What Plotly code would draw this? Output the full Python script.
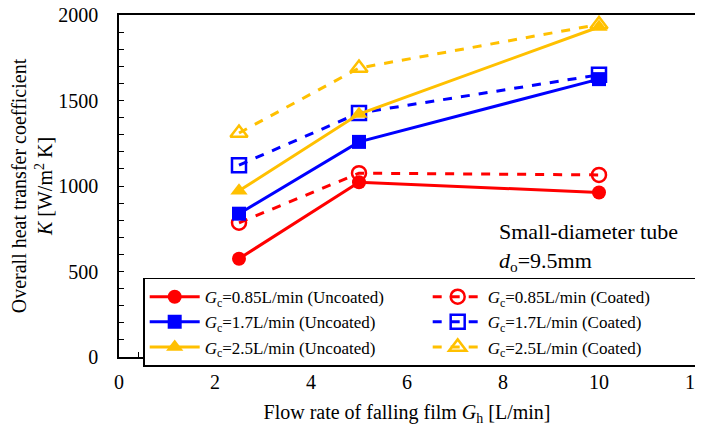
import plotly.graph_objects as go

x_flow = [2.5, 5.0, 10.0]
k_085_uncoated = [575, 1022, 962]
k_085_coated = [785, 1075, 1065]
k_17_uncoated = [838, 1258, 1625]
k_17_coated = [1122, 1427, 1650]
k_25_uncoated = [972, 1421, 1930]
k_25_coated = [1310, 1690, 1945]

RED = "#FF0000"
BLUE = "#0000FF"
YEL = "#FFC000"
FONT = "Liberation Serif"

series = [
    ("<i>G</i><sub>c</sub>=0.85L/min (Uncoated)", k_085_uncoated, RED, "solid", "circle"),
    ("<i>G</i><sub>c</sub>=0.85L/min (Coated)", k_085_coated, RED, "dash", "circle-open"),
    ("<i>G</i><sub>c</sub>=1.7L/min (Uncoated)", k_17_uncoated, BLUE, "solid", "square"),
    ("<i>G</i><sub>c</sub>=1.7L/min (Coated)", k_17_coated, BLUE, "dash", "square-open"),
    ("<i>G</i><sub>c</sub>=2.5L/min (Uncoated)", k_25_uncoated, YEL, "solid", "triangle-up"),
    ("<i>G</i><sub>c</sub>=2.5L/min (Coated)", k_25_coated, YEL, "dash", "triangle-up-open"),
]

fig = go.Figure()
for name, ys, col, dash, sym in series:
    fig.add_trace(go.Scatter(
        x=x_flow, y=ys, name=name, mode="lines+markers",
        line=dict(color=col, width=3, dash=dash),
        marker=dict(symbol=sym, size=15 if "triangle" in sym else 14, color=col,
                    line=dict(color=col, width=2.5 if "open" in sym else 0)),
    ))

# page body has an 8px margin, so the figure is sized/offset to compensate
fig.update_layout(
    width=695, height=418,
    margin=dict(l=111, r=8, t=7, b=69, autoexpand=False),
    paper_bgcolor="white", plot_bgcolor="white",
    font=dict(family=FONT, size=20, color="black"),
    showlegend=True,
    legend=dict(
        orientation="h", x=0.042, y=0.232, xanchor="left", yanchor="top",
        entrywidth=218, entrywidthmode="pixels",
        bgcolor="white", bordercolor="black", borderwidth=1.5,
        font=dict(family=FONT, size=17, color="black"),
        tracegroupgap=0, itemwidth=50,
    ),
    annotations=[dict(
        x=0.657, y=0.322, xref="paper", yref="paper", xanchor="left", yanchor="middle",
        align="left", showarrow=False,
        text="Small-diameter tube<br><i>d</i><sub>o</sub>=9.5mm",
        font=dict(family=FONT, size=22, color="black"),
    )],
)

fig.update_xaxes(
    range=[0, 12], dtick=2, tick0=0, automargin=False, ticklabeloverflow="allow",
    showline=True, linecolor="black", linewidth=1.5, mirror=True,
    ticks="inside", ticklen=5, tickcolor="black",
    minor=dict(ticks="inside", ticklen=5, dtick=0.4, tickcolor="black"),
    showgrid=False, zeroline=False,
    tickfont=dict(family=FONT, size=20), ticklabelstandoff=6,
    title=dict(text="Flow rate of falling film <i>G</i><sub>h</sub> [L/min]",
               font=dict(family=FONT, size=20), standoff=14),
)
fig.update_yaxes(
    range=[0, 2000], dtick=500, tick0=0, automargin=False, ticklabeloverflow="allow",
    showline=True, linecolor="black", linewidth=1.5, mirror=True,
    ticks="inside", ticklen=5, tickcolor="black",
    minor=dict(ticks="inside", ticklen=5, dtick=100, tickcolor="black"),
    showgrid=False, zeroline=False,
    tickfont=dict(family=FONT, size=20), ticklabelstandoff=15,
    title=dict(text="Overall heat transfer coefficient<br><i>K</i> [W/m<sup>2</sup> K]",
               font=dict(family=FONT, size=20), standoff=1),
)

fig.write_html("out.html")
